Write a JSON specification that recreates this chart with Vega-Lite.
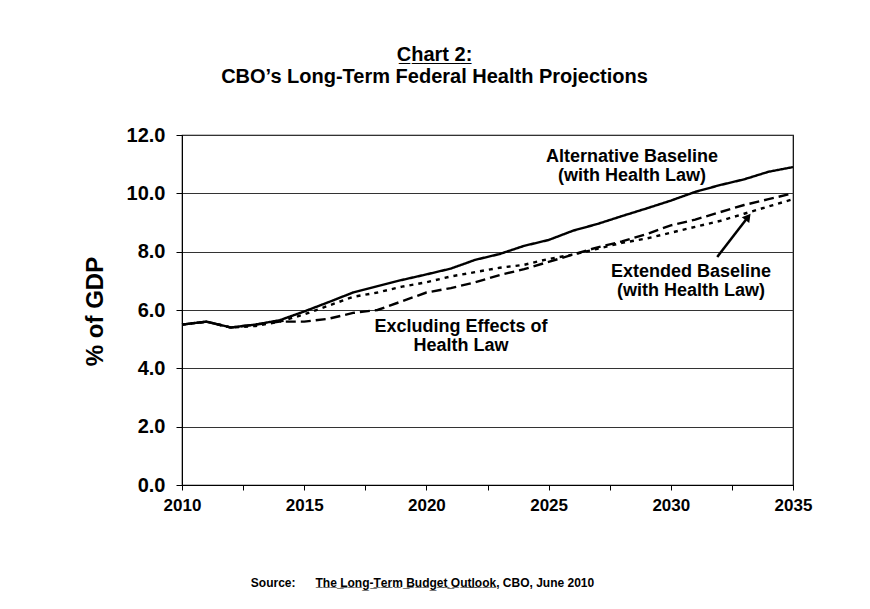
{
  "$schema": "https://vega.github.io/schema/vega-lite/v6.json",
  "width": 611,
  "height": 350,
  "autosize": {"type": "none"},
  "padding": {"left": 182, "top": 135, "right": 77, "bottom": 124},
  "background": "white",
  "config": {
    "font": "Liberation Sans",
    "view": {"stroke": "black", "strokeWidth": 1.2},
    "axis": {"labelFont": "Liberation Sans", "titleFont": "Liberation Sans", "labelFontWeight": "bold", "titleFontWeight": "bold", "labelColor": "black", "titleColor": "black", "domainColor": "black", "tickColor": "black"}
  },
  "title": {
    "text": "C̲h̲a̲r̲t̲ ̲2̲:",
    "subtitle": "CBO’s Long-Term Federal Health Projections",
    "font": "Liberation Sans",
    "subtitleFont": "Liberation Sans",
    "fontSize": 20,
    "subtitleFontSize": 20,
    "fontWeight": "bold",
    "subtitleFontWeight": "bold",
    "color": "black",
    "subtitleColor": "black",
    "anchor": "middle",
    "frame": "group",
    "dx": -53,
    "offset": 38,
    "subtitlePadding": 2
  },
  "datasets": {
    "series": [
      {"year": 2010, "series": "Alternative", "value": 5.5},
      {"year": 2011, "series": "Alternative", "value": 5.6},
      {"year": 2012, "series": "Alternative", "value": 5.4},
      {"year": 2013, "series": "Alternative", "value": 5.5},
      {"year": 2014, "series": "Alternative", "value": 5.65},
      {"year": 2015, "series": "Alternative", "value": 5.95},
      {"year": 2016, "series": "Alternative", "value": 6.27},
      {"year": 2017, "series": "Alternative", "value": 6.6},
      {"year": 2018, "series": "Alternative", "value": 6.82},
      {"year": 2019, "series": "Alternative", "value": 7.03},
      {"year": 2020, "series": "Alternative", "value": 7.22},
      {"year": 2021, "series": "Alternative", "value": 7.42},
      {"year": 2022, "series": "Alternative", "value": 7.72},
      {"year": 2023, "series": "Alternative", "value": 7.92},
      {"year": 2024, "series": "Alternative", "value": 8.2},
      {"year": 2025, "series": "Alternative", "value": 8.4},
      {"year": 2026, "series": "Alternative", "value": 8.72},
      {"year": 2027, "series": "Alternative", "value": 8.95},
      {"year": 2028, "series": "Alternative", "value": 9.22},
      {"year": 2029, "series": "Alternative", "value": 9.48},
      {"year": 2030, "series": "Alternative", "value": 9.75},
      {"year": 2031, "series": "Alternative", "value": 10.05},
      {"year": 2032, "series": "Alternative", "value": 10.28},
      {"year": 2033, "series": "Alternative", "value": 10.48},
      {"year": 2034, "series": "Alternative", "value": 10.74},
      {"year": 2035, "series": "Alternative", "value": 10.9},
      {"year": 2010, "series": "Extended", "value": 5.5},
      {"year": 2011, "series": "Extended", "value": 5.6},
      {"year": 2012, "series": "Extended", "value": 5.4},
      {"year": 2013, "series": "Extended", "value": 5.45},
      {"year": 2014, "series": "Extended", "value": 5.6},
      {"year": 2015, "series": "Extended", "value": 5.85},
      {"year": 2016, "series": "Extended", "value": 6.15},
      {"year": 2017, "series": "Extended", "value": 6.45},
      {"year": 2018, "series": "Extended", "value": 6.6},
      {"year": 2019, "series": "Extended", "value": 6.8},
      {"year": 2020, "series": "Extended", "value": 6.95},
      {"year": 2021, "series": "Extended", "value": 7.15},
      {"year": 2022, "series": "Extended", "value": 7.3},
      {"year": 2023, "series": "Extended", "value": 7.45},
      {"year": 2024, "series": "Extended", "value": 7.55},
      {"year": 2025, "series": "Extended", "value": 7.75},
      {"year": 2026, "series": "Extended", "value": 7.9},
      {"year": 2027, "series": "Extended", "value": 8.1},
      {"year": 2028, "series": "Extended", "value": 8.3},
      {"year": 2029, "series": "Extended", "value": 8.45},
      {"year": 2030, "series": "Extended", "value": 8.65},
      {"year": 2031, "series": "Extended", "value": 8.85},
      {"year": 2032, "series": "Extended", "value": 9.05},
      {"year": 2033, "series": "Extended", "value": 9.3},
      {"year": 2034, "series": "Extended", "value": 9.55},
      {"year": 2035, "series": "Extended", "value": 9.8},
      {"year": 2010, "series": "Excluding", "value": 5.5},
      {"year": 2011, "series": "Excluding", "value": 5.6},
      {"year": 2012, "series": "Excluding", "value": 5.4},
      {"year": 2013, "series": "Excluding", "value": 5.5},
      {"year": 2014, "series": "Excluding", "value": 5.6},
      {"year": 2015, "series": "Excluding", "value": 5.6},
      {"year": 2016, "series": "Excluding", "value": 5.7},
      {"year": 2017, "series": "Excluding", "value": 5.9},
      {"year": 2018, "series": "Excluding", "value": 6.0},
      {"year": 2019, "series": "Excluding", "value": 6.3},
      {"year": 2020, "series": "Excluding", "value": 6.6},
      {"year": 2021, "series": "Excluding", "value": 6.75},
      {"year": 2022, "series": "Excluding", "value": 6.95},
      {"year": 2023, "series": "Excluding", "value": 7.2},
      {"year": 2024, "series": "Excluding", "value": 7.4},
      {"year": 2025, "series": "Excluding", "value": 7.65},
      {"year": 2026, "series": "Excluding", "value": 7.9},
      {"year": 2027, "series": "Excluding", "value": 8.15},
      {"year": 2028, "series": "Excluding", "value": 8.35},
      {"year": 2029, "series": "Excluding", "value": 8.6},
      {"year": 2030, "series": "Excluding", "value": 8.9},
      {"year": 2031, "series": "Excluding", "value": 9.1},
      {"year": 2032, "series": "Excluding", "value": 9.35},
      {"year": 2033, "series": "Excluding", "value": 9.6},
      {"year": 2034, "series": "Excluding", "value": 9.8},
      {"year": 2035, "series": "Excluding", "value": 10.0}
    ],
    "labels": [
      {"x": 2028.41, "y": 11.07, "label": "Alternative Baseline"},
      {"x": 2028.41, "y": 10.41, "label": "(with Health Law)"},
      {"x": 2030.83, "y": 7.13, "label": "Extended Baseline"},
      {"x": 2030.83, "y": 6.47, "label": "(with Health Law)"},
      {"x": 2021.42, "y": 5.25, "label": "Excluding Effects of"},
      {"x": 2021.42, "y": 4.59, "label": "Health Law"}
    ],
    "arrow": [
      {"x": 2031.9, "y": 7.82, "x2": 2033.16, "y2": 9.19}
    ]
  },
  "layer": [
    {
      "data": {"name": "series"},
      "mark": {"type": "line", "color": "black", "strokeWidth": 2.4},
      "encoding": {
        "x": {
          "field": "year", "type": "quantitative",
          "scale": {"domain": [2010, 2035], "nice": false, "zero": false},
          "axis": {
            "values": [2010, 2012.5, 2015, 2017.5, 2020, 2022.5, 2025, 2027.5, 2030, 2032.5, 2035],
            "labelExpr": "datum.value % 5 == 0 ? '' + datum.value : ''",
            "grid": false, "labelFontSize": 17, "labelPadding": 7, "tickSize": 5,
            "labelFlush": false, "labelOverlap": false,
            "title": "Source:\u00a0\u00a0\u00a0\u00a0\u00a0\u00a0T̲h̲e̲ ̲L̲o̲n̲g̲-̲T̲e̲r̲m̲ ̲B̲u̲d̲g̲e̲t̲ ̲O̲u̲t̲l̲o̲o̲k̲, CBO, June 2010",
            "titleFontSize": 12, "titleX": 240, "titleY": 97, "titleAnchor": "middle", "titleAlign": "center", "titleBaseline": "middle"
          }
        },
        "y": {
          "field": "value", "type": "quantitative",
          "scale": {"domain": [0, 12], "nice": false},
          "axis": {
            "values": [0, 2, 4, 6, 8, 10, 12], "format": ".1f",
            "grid": true, "gridColor": "#333333", "gridWidth": 1,
            "labelFontSize": 20, "labelPadding": 11, "tickSize": 6,
            "title": "% of GDP", "titleFontSize": 24, "titleX": -87, "titleY": 176,
            "titleAngle": -90, "titleAlign": "center", "titleBaseline": "middle"
          }
        },
        "detail": {"field": "series"},
        "strokeDash": {
          "field": "series", "type": "nominal",
          "scale": {"domain": ["Alternative", "Extended", "Excluding"], "range": [[1, 0], [4, 5], [10, 5]]},
          "legend": null
        }
      }
    },
    {
      "data": {"name": "labels"},
      "mark": {"type": "text", "font": "Liberation Sans", "fontWeight": "bold", "fontSize": 18, "align": "center", "baseline": "alphabetic", "color": "black"},
      "encoding": {
        "x": {"field": "x", "type": "quantitative"},
        "y": {"field": "y", "type": "quantitative"},
        "text": {"field": "label"}
      }
    },
    {
      "data": {"name": "arrow"},
      "mark": {"type": "rule", "color": "black", "strokeWidth": 2.5},
      "encoding": {
        "x": {"field": "x", "type": "quantitative"},
        "y": {"field": "y", "type": "quantitative"},
        "x2": {"field": "x2"},
        "y2": {"field": "y2"}
      }
    },
    {
      "data": {"name": "arrow"},
      "mark": {"type": "point", "shape": "triangle-up", "filled": true, "color": "black", "size": 90, "angle": 38, "opacity": 1},
      "encoding": {
        "x": {"field": "x2", "type": "quantitative"},
        "y": {"field": "y2", "type": "quantitative"}
      }
    }
  ]
}
